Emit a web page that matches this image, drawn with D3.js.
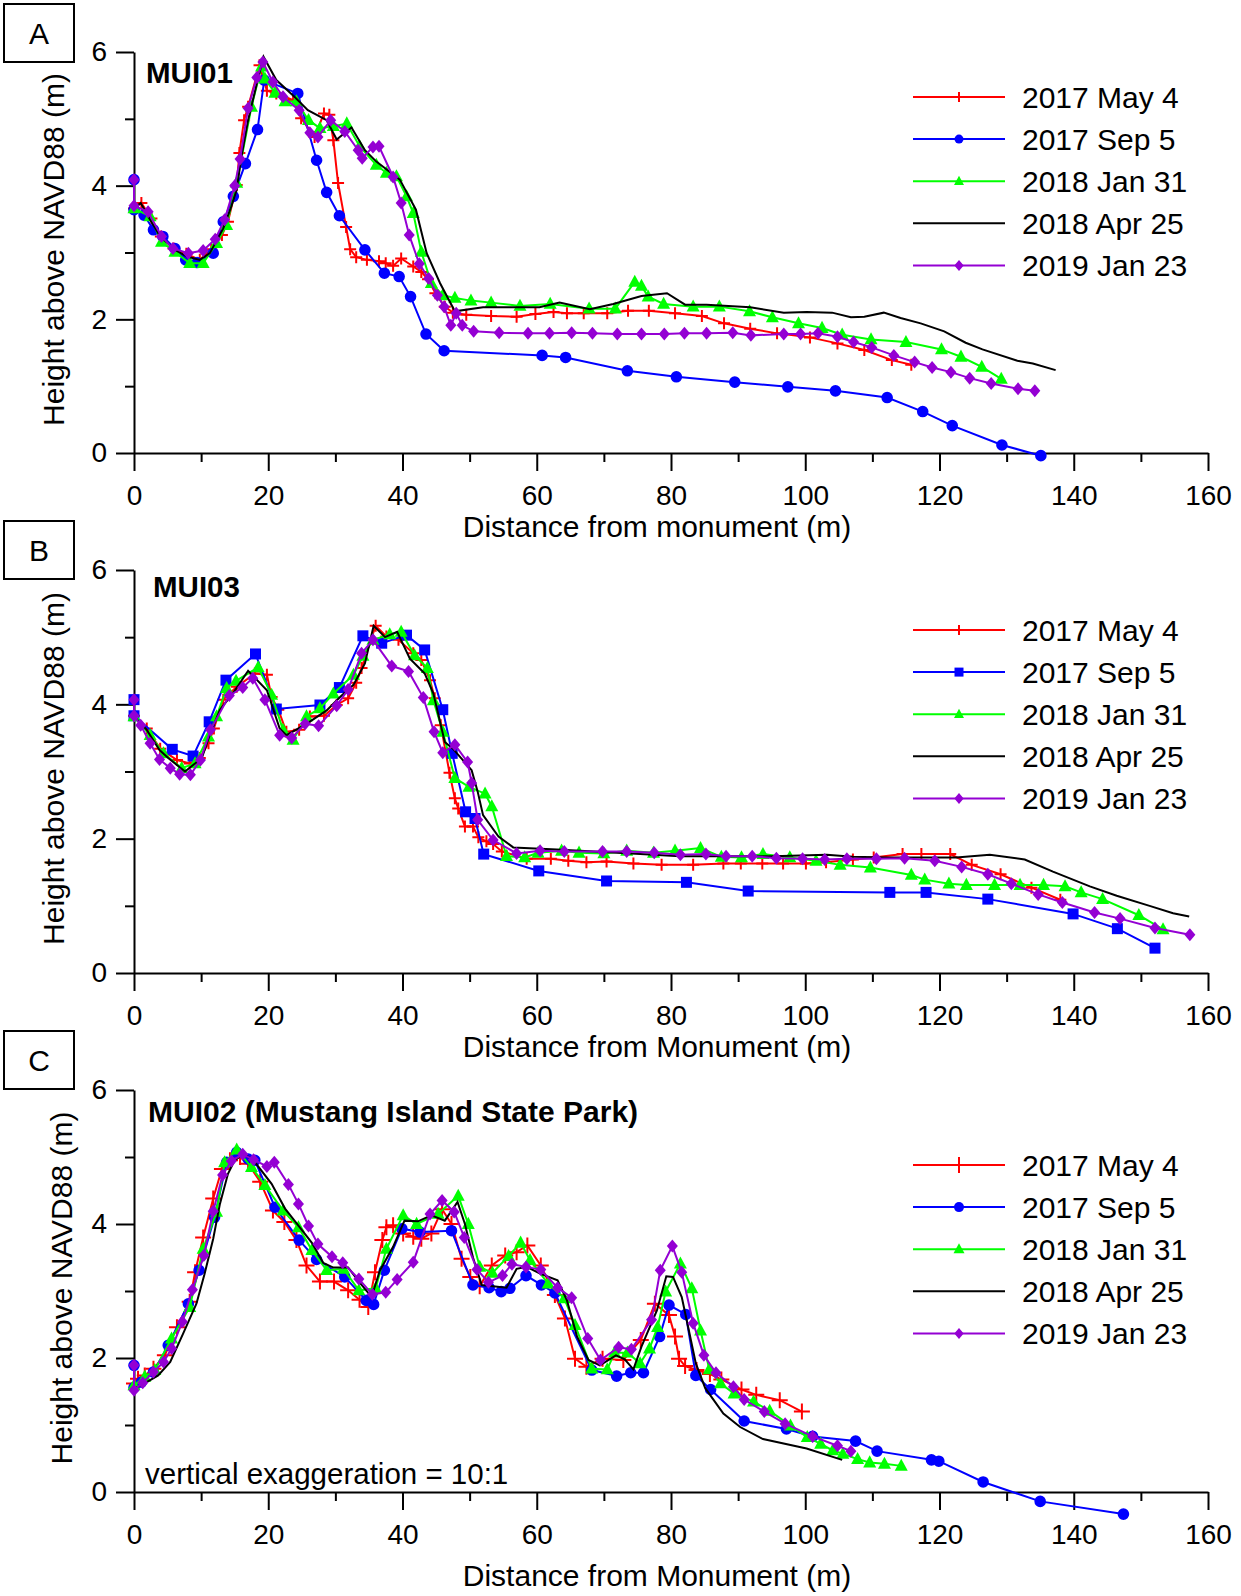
<!DOCTYPE html>
<html>
<head>
<meta charset="utf-8">
<script src="https://cdn.jsdelivr.net/npm/d3@7"></script>
<style>
  body { margin: 0; background: #fff; }
  svg text { font-family: "Liberation Sans", Arial, sans-serif; fill: #000; }
</style>
</head>
<body>
<svg id="fig" width="1241" height="1596"></svg>
<script>
// ---- data (distance from monument m, height above NAVD88 m) ----
var seriesNames = ["2017 May 4", "2017 Sep 5", "2018 Jan 31", "2018 Apr 25", "2019 Jan 23"];
var xMajor = [0, 20, 40, 60, 80, 100, 120, 140, 160];
var xMinor = [10, 30, 50, 70, 90, 110, 130, 150];
var yMajor = [0, 2, 4, 6];
var yMinor = [1, 3, 5];

// MUI01
var mui01May17 = [[0,3.66],[1.1,3.74],[2.6,3.51],[4.0,3.24],[5.9,3.06],[7.8,2.98],[9.8,2.89],[11.5,3.05],[13.1,3.26],[14.0,3.46],[15.3,4.01],[15.7,4.49],[16.4,4.98],[17.0,5.18],[18.7,5.80],[19.8,5.42],[21.2,5.38],[23.7,5.28],[24.9,5.01],[26.9,4.73],[28.3,5.08],[29.1,5.06],[29.7,4.68],[30.4,4.04],[31.6,3.38],[32.2,3.05],[33.1,2.93],[34.7,2.89],[36.5,2.87],[37.5,2.84],[38.6,2.80],[39.8,2.91],[41.6,2.79],[42.8,2.71],[43.8,2.60],[44.9,2.39],[46.3,2.19],[47.5,2.10],[49.5,2.07],[53.2,2.05],[57.0,2.04],[59.8,2.08],[62.5,2.11],[64.5,2.09],[67.0,2.09],[70.5,2.09],[73.6,2.13],[76.7,2.13],[80.6,2.09],[84.6,2.05],[87.9,1.94],[91.8,1.86],[95.8,1.79],[100.7,1.73],[104.8,1.64],[108.8,1.54],[112.9,1.39],[115.8,1.32]];
var mui01Sep17 = [[0,4.09],[0,3.64],[1.5,3.56],[2.9,3.34],[4.3,3.24],[6.1,3.06],[7.7,2.89],[9.4,2.85],[11.8,2.99],[13.3,3.46],[14.8,3.84],[16.6,4.33],[18.4,4.84],[19.4,5.58],[24.4,5.38],[27.2,4.38],[28.7,3.90],[30.6,3.55],[34.4,3.04],[37.3,2.69],[39.5,2.64],[41.2,2.34],[43.5,1.78],[46.2,1.53],[60.8,1.46],[64.3,1.43],[73.5,1.23],[80.8,1.14],[89.5,1.06],[97.4,0.99],[104.5,0.93],[112.2,0.83],[117.5,0.62],[121.9,0.41],[129.3,0.12],[135.1,-0.04]];
var mui01Jan18 = [[0,3.66],[2.4,3.54],[4.1,3.16],[6.1,3.01],[8.3,2.84],[10.3,2.84],[12.3,3.14],[13.8,3.41],[15.3,4.04],[17.5,5.18],[19.0,5.78],[19.5,5.60],[21.0,5.39],[22.5,5.26],[24.2,5.26],[26.0,4.98],[27.7,4.86],[29.7,4.89],[31.7,4.93],[33.6,4.59],[36.1,4.31],[37.6,4.19],[39.1,4.14],[40.6,3.84],[41.6,3.59],[42.8,3.01],[44.3,2.54],[46.0,2.36],[47.8,2.32],[50.2,2.28],[53.2,2.25],[57.5,2.20],[62.0,2.23],[67.8,2.16],[71.7,2.16],[74.6,2.56],[75.6,2.50],[76.6,2.34],[78.9,2.23],[83.3,2.19],[87.2,2.19],[91.7,2.12],[95.1,2.03],[99.0,1.94],[102.5,1.87],[105.5,1.77],[109.8,1.70],[115.0,1.66],[120.3,1.55],[123.2,1.44],[126.3,1.29],[129.2,1.11]];
var mui01Apr18 = [[0,3.66],[1.0,3.74],[2.4,3.49],[3.9,3.24],[6.1,3.04],[7.9,2.94],[9.8,2.89],[11.3,2.99],[13.3,3.36],[14.5,3.69],[15.3,3.94],[16.0,4.43],[17.0,4.98],[18.3,5.53],[19.3,5.93],[21.2,5.58],[23.9,5.33],[25.9,5.13],[28.7,4.98],[30.2,4.69],[32.4,4.87],[34.4,4.53],[36.1,4.36],[39.6,4.09],[42.0,3.64],[43.6,2.99],[45.6,2.54],[47.8,2.12],[52.0,2.18],[60.4,2.18],[63.4,2.25],[67.9,2.15],[71.4,2.23],[75.6,2.35],[79.4,2.39],[82.1,2.22],[85.3,2.22],[91.8,2.18],[96.8,2.10],[100.2,2.11],[104.0,2.10],[106.8,2.03],[108.8,2.04],[111.7,2.10],[114.2,2.02],[117.2,1.94],[120.7,1.82],[123.9,1.65],[126.4,1.55],[131.6,1.38],[133.9,1.34],[137.3,1.24]];
var mui01Jan19 = [[0,4.09],[0,3.70],[2.1,3.61],[4.1,3.24],[5.8,3.06],[8.1,2.99],[10.3,3.03],[12.1,3.20],[13.5,3.49],[15.0,4.00],[15.8,4.40],[17.0,5.16],[18.3,5.62],[19.2,5.85],[20.7,5.55],[22.2,5.33],[24.6,5.13],[26.2,4.79],[27.4,4.73],[29.3,4.98],[31.4,4.81],[33.4,4.53],[34.0,4.41],[35.6,4.58],[36.5,4.59],[38.6,4.13],[39.8,3.74],[41.0,3.26],[42.5,2.83],[43.9,2.61],[45.2,2.36],[46.2,2.19],[47.2,1.91],[48.0,2.09],[48.9,1.91],[50.6,1.82],[54.4,1.80],[58.7,1.79],[61.9,1.79],[65.2,1.80],[68.3,1.79],[72.0,1.78],[75.6,1.78],[79.0,1.78],[82.0,1.79],[85.3,1.79],[89.2,1.80],[91.9,1.76],[96.8,1.78],[99.3,1.78],[101.9,1.79],[104.8,1.74],[107.2,1.66],[109.9,1.58],[113.2,1.46],[116.3,1.36],[118.9,1.28],[121.7,1.21],[124.5,1.12],[127.7,1.04],[131.7,0.96],[134.2,0.93]];

// MUI03
var mui03May17 = [[0,3.83],[1.9,3.64],[3.9,3.34],[6.4,3.17],[8.3,3.12],[9.8,3.20],[11.1,3.42],[11.9,3.64],[13.3,4.07],[15.3,4.26],[18.0,4.46],[19.8,4.44],[20.5,4.11],[21.5,3.92],[22.7,3.59],[24.6,3.62],[26.2,3.82],[28.3,3.83],[30.2,3.99],[31.9,4.09],[33.1,4.32],[33.9,4.54],[36.0,5.17],[37.6,5.01],[39.4,4.96],[41.6,4.76],[42.8,4.66],[44.1,4.36],[44.8,4.09],[45.7,3.69],[47.0,2.98],[47.8,2.60],[48.3,2.45],[49.3,2.18],[50.5,2.18],[51.3,2.02],[52.5,1.96],[53.5,1.92],[54.8,1.81],[58.5,1.70],[62.1,1.70],[64.7,1.67],[67.4,1.65],[70.4,1.66],[74.4,1.63],[78.6,1.61],[83.3,1.61],[87.8,1.63],[90.4,1.63],[93.6,1.63],[96.7,1.63],[100.1,1.63],[103.1,1.65],[107.1,1.69],[110.2,1.72],[114.5,1.77],[117.3,1.77],[121.6,1.77],[124.8,1.61],[129.1,1.47],[133.7,1.27],[138.0,1.09]];
var mui03Sep17 = [[0,4.07],[0,3.83],[5.7,3.33],[8.8,3.23],[11.2,3.74],[13.7,4.36],[18.1,4.75],[21.2,3.93],[27.7,3.99],[30.6,4.25],[34.1,5.02],[36.9,4.91],[40.6,5.03],[43.3,4.81],[46.0,3.92],[47.4,3.27],[49.4,2.40],[50.8,2.30],[52.1,1.77],[60.3,1.52],[70.4,1.37],[82.3,1.35],[91.5,1.22],[112.6,1.20],[118.0,1.20],[127.2,1.10],[139.9,0.88],[146.5,0.66],[152.1,0.37]];
var mui03Jan18 = [[0,3.82],[2.4,3.54],[4.4,3.27],[7.1,3.05],[9.1,3.12],[11.1,3.52],[12.3,3.82],[13.8,4.24],[15.2,4.35],[18.5,4.55],[20.5,4.14],[22.2,3.62],[23.7,3.47],[25.7,3.82],[27.7,3.94],[29.7,4.16],[32.7,4.44],[34.1,4.72],[35.6,4.96],[38.1,5.04],[39.8,5.08],[41.8,4.73],[43.7,4.54],[44.6,4.06],[46.0,3.59],[47.8,2.90],[49.9,2.77],[52.3,2.67],[53.3,2.48],[55.5,1.74],[58.2,1.72],[60.2,1.79],[63.7,1.82],[66.3,1.79],[70.0,1.78],[73.4,1.82],[77.4,1.79],[80.6,1.82],[84.4,1.86],[87.5,1.73],[90.5,1.72],[93.7,1.77],[97.7,1.72],[101.6,1.67],[105.2,1.61],[109.7,1.57],[115.8,1.46],[117.8,1.39],[121.4,1.33],[124.0,1.31],[128.2,1.31],[132.0,1.31],[135.5,1.31],[138.7,1.29],[141.1,1.20],[144.3,1.10],[149.7,0.86],[153.3,0.65]];
var mui03Apr18 = [[0,3.82],[1.9,3.62],[3.8,3.32],[5.1,3.20],[7.6,3.00],[10.1,3.20],[11.3,3.55],[12.8,3.92],[14.8,4.17],[17.0,4.50],[19.8,4.21],[21.7,3.64],[22.7,3.54],[25.7,3.71],[28.7,3.91],[30.7,4.11],[32.7,4.29],[34.4,4.61],[35.7,5.17],[37.4,5.00],[39.2,5.08],[41.1,4.68],[43.3,4.46],[44.6,4.16],[46.3,3.44],[47.5,3.34],[50.3,3.02],[51.2,2.70],[52.0,2.35],[54.3,2.03],[56.5,1.87],[63.0,1.84],[75.4,1.77],[81.3,1.74],[89.3,1.74],[95.2,1.74],[103.2,1.76],[107.1,1.73],[112.1,1.72],[122.5,1.72],[127.5,1.76],[132.7,1.69],[136.9,1.51],[142.4,1.29],[146.4,1.15],[151.3,1.00],[154.8,0.89],[157.2,0.84]];
var mui03Jan19 = [[0,4.07],[0,3.83],[1.0,3.69],[2.4,3.42],[3.8,3.18],[5.4,3.05],[6.8,2.96],[8.4,2.95],[9.9,3.17],[11.4,3.62],[14.2,4.13],[16.2,4.25],[17.7,4.39],[19.5,4.07],[21.7,3.54],[23.5,3.50],[25.5,3.71],[27.5,3.68],[30.2,3.98],[31.9,4.22],[33.9,4.76],[35.6,4.96],[38.4,4.57],[40.9,4.49],[43.1,4.10],[44.7,3.59],[46.0,3.28],[47.8,3.40],[49.7,3.14],[50.3,2.83],[51.2,2.28],[53.5,1.98],[57.0,1.78],[60.5,1.82],[64.1,1.81],[69.8,1.81],[73.4,1.81],[77.5,1.79],[81.4,1.76],[85.2,1.77],[88.2,1.74],[92.1,1.74],[95.7,1.71],[99.6,1.70],[102.9,1.69],[106.2,1.70],[110.6,1.70],[114.8,1.71],[119.3,1.67],[123.3,1.58],[127.2,1.47],[130.7,1.33],[134.7,1.17],[138.3,1.05],[143.1,0.90],[146.9,0.81],[152.1,0.67],[157.3,0.57]];

// MUI02
var mui02May17 = [[0,1.62],[0.6,1.69],[1.6,1.74],[2.9,1.84],[4.6,2.04],[6.4,2.46],[8.3,2.84],[9.1,3.28],[10.3,3.80],[11.8,4.38],[13.1,4.82],[14.3,4.95],[15.8,5.00],[17.0,4.90],[18.8,4.63],[20.7,4.20],[22.4,4.03],[24.2,3.76],[25.7,3.38],[27.7,3.14],[29.8,3.14],[31.9,3.01],[33.6,2.87],[34.9,2.76],[35.9,3.28],[37.0,3.76],[37.6,3.95],[38.6,3.98],[40.1,3.86],[41.6,3.81],[42.8,3.78],[44.3,3.86],[45.9,4.22],[47.3,4.00],[48.8,3.48],[50.1,3.21],[51.5,3.07],[53.3,3.38],[55.3,3.53],[57.0,3.58],[58.6,3.68],[60.6,3.38],[62.7,2.94],[64.2,2.59],[65.7,1.99],[67.4,1.87],[69.8,1.99],[72.9,1.97],[75.5,2.27],[77.6,2.81],[79.7,2.64],[80.6,2.32],[81.2,1.99],[82.1,1.88],[83.8,1.82],[85.8,1.76],[87.5,1.68],[90.5,1.53],[92.7,1.45],[96.2,1.37],[99.5,1.20]];
var mui02Sep17 = [[0,1.89],[0,1.56],[1.1,1.64],[2.9,1.79],[5.1,2.19],[8.1,2.81],[9.7,3.31],[12.0,4.10],[13.8,4.92],[15.3,5.07],[17.0,4.97],[18.0,4.95],[21.0,4.25],[24.6,3.76],[27.2,3.47],[31.4,3.21],[34.6,2.86],[35.7,2.80],[37.3,3.31],[39.9,3.93],[42.6,3.88],[47.3,3.90],[50.5,3.09],[52.9,3.05],[54.7,2.99],[56.0,3.04],[58.4,3.23],[60.7,3.09],[62.7,2.97],[68.2,1.82],[71.9,1.73],[74.0,1.78],[75.9,1.78],[78.3,2.32],[79.7,2.79],[82.2,2.65],[83.7,1.74],[85.9,1.53],[90.9,1.06],[97.2,0.94],[101.1,0.83],[107.5,0.76],[110.7,0.61],[118.8,0.48],[119.9,0.46],[126.5,0.15],[135.0,-0.14],[147.4,-0.33]];
var mui02Jan18 = [[0,1.59],[1.6,1.72],[3.1,1.82],[5.6,2.29],[8.3,2.76],[10.3,3.63],[12.3,4.18],[13.5,4.92],[15.3,5.11],[17.5,4.85],[19.5,4.58],[22.2,4.20],[24.5,3.95],[26.5,3.61],[28.7,3.31],[31.2,3.33],[33.5,3.01],[36.0,3.04],[37.6,3.63],[40.1,4.13],[42.1,4.00],[45.3,4.15],[48.3,4.42],[49.8,4.00],[51.5,3.36],[53.4,3.27],[55.8,3.52],[57.6,3.72],[59.0,3.46],[61.7,3.11],[64.1,2.89],[65.7,2.49],[68.2,1.84],[70.5,1.83],[71.6,2.08],[73.5,2.08],[75.4,1.92],[76.8,2.14],[78.0,2.46],[79.2,2.99],[81.4,3.41],[83.1,3.04],[84.4,2.41],[85.7,1.83],[87.4,1.62],[89.4,1.47],[92.3,1.35],[94.7,1.21],[97.8,0.99],[100.3,0.82],[102.3,0.72],[104.1,0.62],[105.6,0.57],[107.8,0.49],[109.6,0.44],[111.8,0.42],[114.3,0.39]];
var mui02Apr18 = [[0,1.54],[1.9,1.64],[3.6,1.74],[5.4,1.94],[7.3,2.36],[9.3,2.81],[10.5,3.25],[11.8,3.78],[12.8,4.30],[14.0,4.75],[15.0,4.95],[16.3,5.05],[17.8,4.95],[20.5,4.60],[22.5,4.23],[24.7,3.95],[26.5,3.72],[28.2,3.42],[29.7,3.35],[31.9,3.35],[33.6,3.13],[35.4,2.91],[36.6,3.30],[38.6,3.66],[40.3,4.05],[42.3,4.04],[44.3,4.13],[46.3,4.05],[48.2,4.33],[49.3,4.00],[50.5,3.50],[51.8,3.09],[55.5,3.05],[57.0,3.33],[58.5,3.36],[60.5,3.26],[63.1,3.16],[64.5,2.86],[66.0,2.32],[67.7,1.97],[69.4,1.89],[71.8,2.04],[73.1,1.98],[74.4,1.83],[75.6,2.17],[77.9,2.71],[79.3,3.22],[80.3,3.21],[81.6,2.91],[82.6,2.44],[83.7,1.92],[85.1,1.55],[87.8,1.17],[90.3,0.97],[93.7,0.79],[100.2,0.65],[105.5,0.48]];
var mui02Jan19 = [[0,1.89],[0,1.52],[1.3,1.63],[2.9,1.79],[4.4,1.94],[5.6,2.14],[7.2,2.54],[8.7,3.02],[10.4,3.53],[11.8,4.19],[13.2,4.73],[14.5,4.94],[16.2,5.04],[17.8,4.96],[19.8,4.86],[20.9,4.92],[23.0,4.59],[24.5,4.30],[26.0,3.97],[27.4,3.70],[29.5,3.51],[31.1,3.42],[33.5,3.18],[35.5,2.95],[37.5,2.98],[39.2,3.17],[41.6,3.43],[44.1,4.15],[45.9,4.35],[47.7,4.18],[49.2,3.80],[51.1,3.32],[52.8,3.13],[54.9,3.23],[56.3,3.40],[58.4,3.36],[60.6,3.32],[63.1,3.05],[65.2,2.90],[67.6,2.29],[69.5,1.97],[72.2,2.16],[74.1,2.13],[77.1,2.57],[78.4,3.31],[80.2,3.67],[81.6,3.28],[83.3,2.52],[84.9,2.04],[86.7,1.78],[89.3,1.57],[90.9,1.38],[93.9,1.20],[97.0,1.02],[101.1,0.83],[104.8,0.69],[106.8,0.61]];

// ---- drawing ----
var colors = ["#ff0000", "#0000ff", "#00ff00", "#000000", "#9400d3"];
var svg = d3.select("#fig");
var xScale = d3.scaleLinear().domain([0, 160]).range([134, 1208]);

function markerPath(type, r) {
    if (type == "plus") return "M" + (-r) + ",0H" + r + "M0," + (-r) + "V" + r;
    if (type == "circle") return "M" + r + ",0A" + r + "," + r + " 0 1,1 " + (-r) + ",0A" + r + "," + r + " 0 1,1 " + r + ",0Z";
    if (type == "square") return "M" + (-r) + "," + (-r) + "H" + r + "V" + r + "H" + (-r) + "Z";
    if (type == "triangle") return "M0," + (-r * 1.1) + "L" + r + "," + (r * 0.75) + "L" + (-r) + "," + (r * 0.75) + "Z";
    if (type == "diamond") return "M0," + (-r) + "L" + (r * 0.85) + ",0L0," + r + "L" + (-r * 0.85) + ",0Z";
    return null;
}

var panels = [
    { label: "A", title: "MUI01", titleSize: 29.5, y0: 453, y6: 52, boxY: 4, titleX: 146, titleDy: 31, legendDy: 45,
      xTitle: "Distance from monument (m)", xTitleDy: 84, yTitleX: 64,
      data: [mui01May17, mui01Sep17, mui01Jan18, mui01Apr18, mui01Jan19],
      markers: ["plus", "circle", "triangle", null, "diamond"], sizes: [6, 5.8, 6.5, 0, 6.5], legendSizes: [5, 4.5, 5, 0, 5.5] },
    { label: "B", title: "MUI03", titleSize: 29.5, y0: 973, y6: 570, boxY: 521, titleX: 153, titleDy: 27, legendDy: 60,
      xTitle: "Distance from Monument (m)", xTitleDy: 84, yTitleX: 64,
      data: [mui03May17, mui03Sep17, mui03Jan18, mui03Apr18, mui03Jan19],
      markers: ["plus", "square", "triangle", null, "diamond"], sizes: [6, 5.5, 6.5, 0, 6.5], legendSizes: [5, 4.5, 5, 0, 5.5] },
    { label: "C", title: "MUI02 (Mustang Island State Park)", titleSize: 30, y0: 1492, y6: 1090, boxY: 1031, titleX: 148, titleDy: 32, legendDy: 75,
      xTitle: "Distance from Monument (m)", xTitleDy: 94, yTitleX: 72, note: "vertical exaggeration = 10:1",
      data: [mui02May17, mui02Sep17, mui02Jan18, mui02Apr18, mui02Jan19],
      markers: ["plus", "circle", "triangle", null, "diamond"], sizes: [8, 5.8, 6.5, 0, 6.5], legendSizes: [8, 5, 5.5, 0, 5.5] }
];

panels.forEach(function (p) {
    var yScale = d3.scaleLinear().domain([0, 6]).range([p.y0, p.y6]);
    var g = svg.append("g");

    // panel letter in a box
    g.append("rect").attr("x", 4).attr("y", p.boxY).attr("width", 70).attr("height", 58)
        .attr("fill", "none").attr("stroke", "#000").attr("stroke-width", 2);
    g.append("text").attr("x", 39).attr("y", p.boxY + 29).attr("dy", "0.36em")
        .attr("text-anchor", "middle").style("font-size", "30px").text(p.label);

    // x axis, long ticks labelled, short ticks in between
    g.append("g").attr("transform", "translate(0," + p.y0 + ")")
        .call(d3.axisBottom(xScale).tickValues(xMajor).tickFormat(d3.format("d"))
            .tickSize(18).tickSizeOuter(0).tickPadding(14));
    g.append("g").attr("transform", "translate(0," + p.y0 + ")")
        .call(d3.axisBottom(xScale).tickValues(xMinor).tickSize(9).tickFormat(""))
        .select(".domain").remove();

    g.append("g").attr("transform", "translate(134,0)")
        .call(d3.axisLeft(yScale).tickValues(yMajor).tickFormat(d3.format("d"))
            .tickSize(18).tickSizeOuter(0).tickPadding(9));
    g.append("g").attr("transform", "translate(134,0)")
        .call(d3.axisLeft(yScale).tickValues(yMinor).tickSize(9).tickFormat(""))
        .select(".domain").remove();

    g.selectAll(".domain, .tick line").attr("stroke", "#000").attr("stroke-width", 2);
    g.selectAll(".tick text").style("font-size", "28px").attr("font-family", null);

    // axis titles
    g.append("text").attr("x", 657).attr("y", p.y0 + p.xTitleDy)
        .attr("text-anchor", "middle").style("font-size", "30px").text(p.xTitle);
    g.append("text").attr("transform", "translate(" + p.yTitleX + "," + ((p.y0 + p.y6) / 2 - 3) + ") rotate(-90)")
        .attr("text-anchor", "middle").style("font-size", "30px").text("Height above NAVD88 (m)");

    g.append("text").attr("x", p.titleX).attr("y", p.y6 + p.titleDy)
        .style("font-size", p.titleSize + "px").style("font-weight", "bold").text(p.title);
    if (p.note) {
        g.append("text").attr("x", 145).attr("y", p.y0 - 8).style("font-size", "29.5px").text(p.note);
    }

    var line = d3.line()
        .x(function (d) { return xScale(d[0]); })
        .y(function (d) { return yScale(d[1]); });

    p.data.forEach(function (set, k) {
        var group = g.append("g");
        group.append("path").datum(set)
            .attr("d", line).attr("fill", "none")
            .attr("stroke", colors[k]).attr("stroke-width", 2);
        if (p.markers[k]) {
            var isPlus = p.markers[k] == "plus";
            group.selectAll(".pt").data(set).enter().append("path")
                .attr("transform", function (d) { return "translate(" + xScale(d[0]) + "," + yScale(d[1]) + ")"; })
                .attr("d", markerPath(p.markers[k], p.sizes[k]))
                .attr("fill", isPlus ? "none" : colors[k])
                .attr("stroke", isPlus ? colors[k] : "none")
                .attr("stroke-width", 2);
        }
    });

    // legend
    var legend = g.append("g");
    seriesNames.forEach(function (name, k) {
        var ly = p.y6 + p.legendDy + k * 42.1;
        legend.append("line").attr("x1", 913).attr("x2", 1005).attr("y1", ly).attr("y2", ly)
            .attr("stroke", colors[k]).attr("stroke-width", 2);
        if (p.markers[k]) {
            var isPlus = p.markers[k] == "plus";
            legend.append("path").attr("transform", "translate(959," + ly + ")")
                .attr("d", markerPath(p.markers[k], p.legendSizes[k]))
                .attr("fill", isPlus ? "none" : colors[k])
                .attr("stroke", isPlus ? colors[k] : "none").attr("stroke-width", 2);
        }
        legend.append("text").attr("x", 1022).attr("y", ly).attr("dy", "0.36em")
            .style("font-size", "30px").text(name);
    });
});
</script>
</body>
</html>
